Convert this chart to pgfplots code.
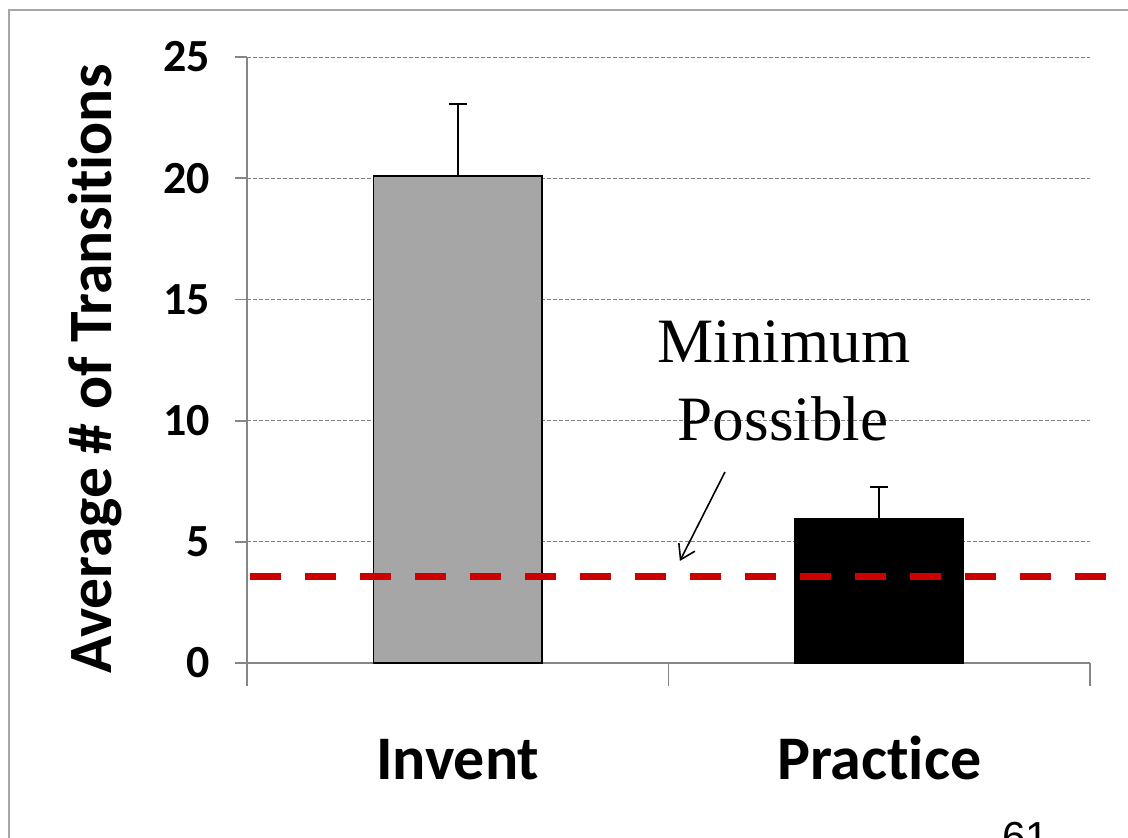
\documentclass[border=0pt]{standalone}
\usepackage{fontspec}
\setmainfont{Carlito}[Ligatures={NoCommon}]
\newfontfamily\timesfont{Liberation Serif}
\newfontfamily\arialfont{Liberation Sans}
\usepackage{pgfplots}
\pgfplotsset{compat=1.18}
\usetikzlibrary{arrows.meta}
\definecolor{redline}{RGB}{204,0,0}
\definecolor{barGray}{RGB}{166,166,166}
\definecolor{axGray}{RGB}{134,134,134}
\begin{document}
\begin{tikzpicture}
\path[use as bounding box] (0,0) rectangle (564pt,418.5pt);
\clip (0,0) rectangle (564pt,418.5pt);
\draw[line width=1pt, color=gray!70] (4.5pt,-10pt) -- (4.5pt,413.5pt) -- (600pt,413.5pt);
\node[font=\arialfont\fontsize{21}{25}\selectfont, anchor=north west, inner sep=0pt] at (501pt,7.5pt) {61};
\begin{axis}[
  at={(123.5pt,87pt)}, anchor=south west,
  scale only axis, width=421.5pt, height=303pt,
  xmin=-0.5, xmax=1.5, ymin=0, ymax=25,
  axis x line*=bottom, axis y line*=left,
  axis line style={axGray, line width=0.9pt},
  clip=false,
  ytick={0,5,10,15,20,25},
  ymajorgrids,
  grid style={dash pattern=on 2pt off 1pt, gray, line width=0.5pt},
  tick align=outside,
  major tick length=6pt,
  tick style={axGray, line width=0.9pt},
  xtick={0,1},
  xticklabels={Invent,Prac\kern0pt tice},
  xtick style={draw=none},
  extra x ticks={-0.5,0.5,1.5},
  extra x tick labels={},
  extra x tick style={major tick length=11.5pt, tick style={axGray, line width=0.9pt}, xtick style={draw=axGray}},
  /pgf/number format/assume math mode=true,
  yticklabel style={font=\bfseries\fontsize{23}{27}\selectfont, anchor=east, xshift=-9pt},
  xticklabel style={font=\bfseries\fontsize{31}{37}\selectfont, anchor=base, yshift=-52pt},
  ylabel={Average \# of Transi\kern0pt tions},
  ylabel style={font=\bfseries\fontsize{30.8}{36}\selectfont, at={(axis description cs:-0.18,0.485)}, anchor=center, rotate=0},
]
\addplot[ybar, bar width=0.4, bar shift=0pt, fill=barGray, draw=black, line width=0.8pt,
  error bars/.cd, y dir=plus, y explicit,
  error bar style={line width=1pt, black},
  error mark options={black, line width=1pt, mark size=4.5pt, rotate=90}]
  coordinates {(0,20.1) +- (0,2.96)};
\addplot[ybar, bar width=0.4, bar shift=0pt, fill=black, draw=black, line width=0.8pt,
  error bars/.cd, y dir=plus, y explicit,
  error bar style={line width=1pt, black},
  error mark options={black, line width=1pt, mark size=4.5pt, rotate=90}]
  coordinates {(1,5.94) +- (0,1.32)};
\addplot[redline, line width=3.5pt, dash pattern=on 15.5pt off 12pt, forget plot]
  coordinates {(-0.493,3.55) (1.7,3.55)};
\node[font=\timesfont\fontsize{31.6}{38}\selectfont, anchor=base, inner sep=0pt] at (axis cs:0.774,12.38) {Minimum};
\node[font=\timesfont\fontsize{31.6}{38}\selectfont, anchor=base, inner sep=0pt] at (axis cs:0.772,9.2) {Possible};
\draw[-{Straight Barb[length=7pt,width=9pt]}, line width=0.8pt] (axis cs:0.634,7.88) -- (axis cs:0.527,4.21);
\end{axis}
\end{tikzpicture}
\end{document}
